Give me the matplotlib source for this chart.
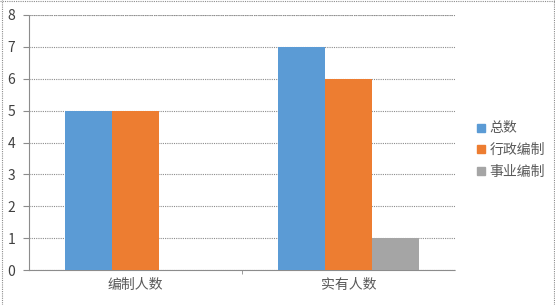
import numpy as np
import matplotlib.pyplot as plt
from matplotlib.lines import Line2D

plt.rcParams['font.family'] = ['Noto Sans CJK SC', 'DejaVu Sans']

# 数据
categories = ['编制人数', '实有人数']
series_names = ['总数', '行政编制', '事业编制']
total = [5, 7]
admin = [5, 6]
inst = [0, 1]
series_colors = ['#5B9BD5', '#ED7D31', '#A5A5A5']
yticks = [0, 1, 2, 3, 4, 5, 6, 7, 8]

text_color = '#595959'
grid_color = '#8C8C8C'

fig = plt.figure(figsize=(5.55, 3.05), dpi=100)
ax = fig.add_axes([29 / 555, 1 - 270 / 305, 426 / 555, 255 / 305])

x = np.arange(len(categories))
w = 0.22
for i, (vals, name, col) in enumerate(zip([total, admin, inst], series_names, series_colors)):
    ax.bar(x + (i - 1) * w, vals, width=w, color=col, label=name, zorder=3)

ax.set_xlim(-0.5, 1.5)
ax.set_ylim(0, 8)
ax.set_yticks(yticks)
ax.set_xticks(x)
ax.set_xticklabels(categories, color=text_color, fontsize=10)
ax.tick_params(axis='x', length=0, pad=6)
ax.tick_params(axis='y', colors=grid_color, labelcolor='#404040', labelsize=10, length=4, width=0.8, pad=6)
ax.set_xticks([0.5], minor=True)
ax.tick_params(axis='x', which='minor', length=3, color=grid_color)

ax.yaxis.grid(True, color=grid_color, linestyle=(0, (1, 1)), linewidth=0.8, zorder=0)
ax.axhline(8, color='#BFBFBF', linewidth=1.5, linestyle=(0, (1.5, 0.5)), zorder=1)
for side in ['top', 'right']:
    ax.spines[side].set_visible(False)
for side in ['left', 'bottom']:
    ax.spines[side].set_color(grid_color)
    ax.spines[side].set_linestyle((0, (1, 1)))
    ax.spines[side].set_linewidth(0.8)

handles = [Line2D([], [], marker='s', linestyle='none', markersize=6,
                  markerfacecolor=c, markeredgecolor=c) for c in series_colors]
fig.legend(handles, series_names, loc='center left', bbox_to_anchor=(462 / 555, 1 - 150 / 305),
           frameon=False, fontsize=10, labelcolor=text_color, handletextpad=0.1,
           labelspacing=0.55, handlelength=1.0)

# 外框
for xs, ys in [([1.5 / 555, 1.5 / 555], [0, 1]), ([0, 1], [1 - 0.5 / 305, 1 - 0.5 / 305]),
               ([553.5 / 555, 553.5 / 555], [0, 1])]:
    fig.add_artist(Line2D(xs, ys, transform=fig.transFigure, color=grid_color,
                          linestyle=(0, (1, 1)), linewidth=0.8))

plt.savefig('out.png', dpi=100)
